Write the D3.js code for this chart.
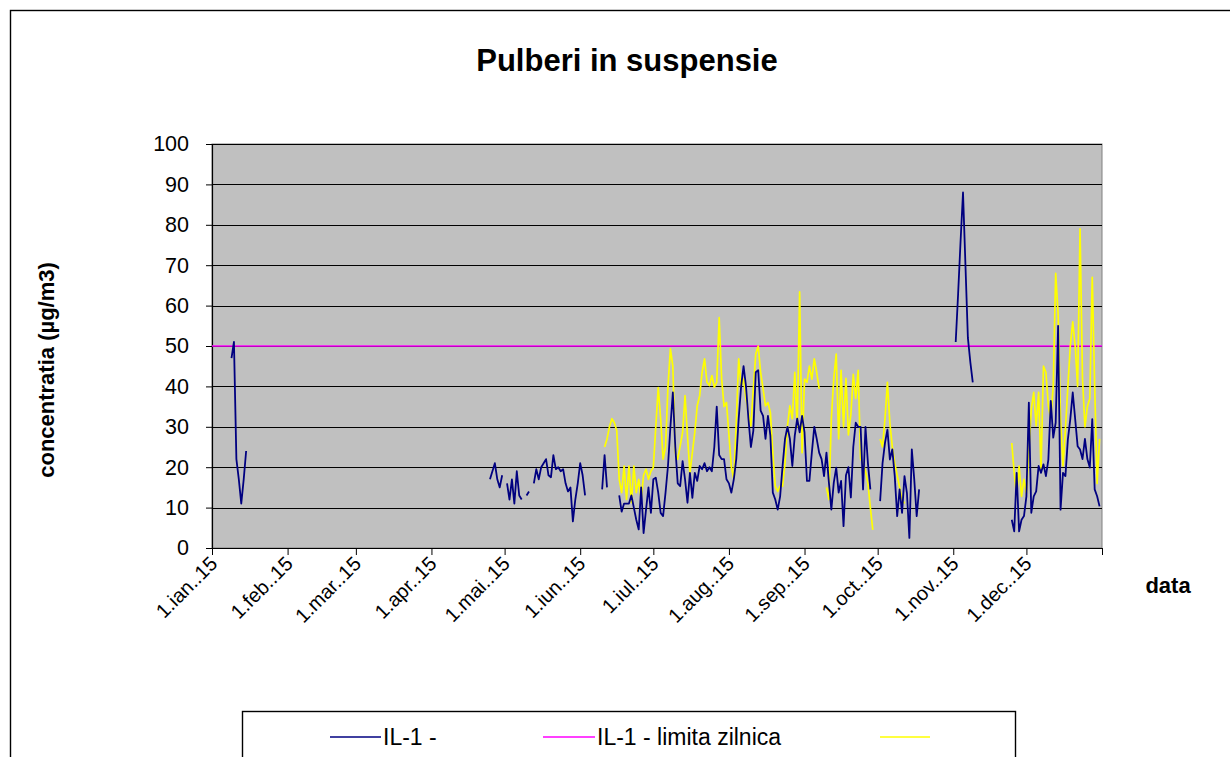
<!DOCTYPE html>
<html><head><meta charset="utf-8">
<script src="https://cdn.jsdelivr.net/npm/d3@7"></script>
<style>body{margin:0;background:#fff}svg{display:block}</style>
</head><body>
<svg id="chart" width="1230" height="757"></svg>
<script>
const chartTitle = "Pulberi in suspensie";
const yAxisTitle = "concentratia (µg/m3)";
const xAxisTitle = "data";
const monthLabels = ["1.ian..15","1.feb..15","1.mar..15","1.apr..15","1.mai..15","1.iun..15","1.iul..15","1.aug..15","1.sep..15","1.oct..15","1.nov..15","1.dec..15"];
const yTicks = [0,10,20,30,40,50,60,70,80,90,100];
const limitValue = 50;
const seriesNames = ["IL-1 -", "IL-1 - limita zilnica", ""];

// IL-1 daily values, in runs (null = missing day)
const il1RunStarts = ["2015-01-09","2015-04-25","2015-06-10","2015-11-02","2015-11-25"];
const il1Run1 = [47,51,22,17,11,17,24];
const il1Run2 = [17,19,21,17,15,18,null,16,12,17,11,19,13,12,null,13,14,null,16,19.5,17,20,21,22,18,17.5,23,19.5,20,19,19.5,16,14,15,6.6,12,16,21,18,13];
const il1Run3 = [14.5,23,15,null,null,null,null,13,9,11,11,11,13,10,7,4.6,15,3.7,9.5,15,8.7,17,17.4,13.7,8.7,7.9,13.7,20.3,30,38.5,25,16,15.3,21.5,17,11.2,18.6,12.4,18.6,16.6,20.3,19.5,21,19,20,19,25,35,23,22,22,17,16,13.7,17,22,32,40,45,40,32,25,29,43.5,44,34,32.7,27,32.7,27.8,13.7,12,9.5,12.8,20.3,27,30,27,20.3,27.8,32,28.6,32.7,28.6,16.6,16.6,23.6,30,27,23.6,22,17.8,23.6,16.2,9.5,16.2,19.9,13.7,16.6,5.4,18,20,12.5,25,31,30,30,14.5,30,21,14.5,null,null,null,11.6,21,26,29.3,21.9,24.4,17.8,7.9,14.5,8.7,17.8,13.6,2.5,24.4,17,7.9,14.5];
const il1Run4 = [51,63,76,88,70,52,46,41];
const il1Run5 = [7,4.1,18.6,4.1,7,7.9,12.8,36,8.7,12.8,14,20.3,18.6,20.7,17.8,21.9,36.4,27.3,31,55,9.5,18.6,17.8,26.9,31.9,38.5,31.9,25.2,24.4,22,27,22,19.9,31.9,14.5,12.8,10.3];

// third (yellow) series daily values, in runs
const yelRunStarts = ["2015-06-11","2015-10-02","2015-11-25"];
const yelRun1 = [25,27,30,32,31,29,17,13.7,20.3,12,20.3,11.2,20.3,13.7,17,12,18,19.5,17,19,20,30,39.7,32,22,25,40,49.3,45,23.6,22,25.3,28.6,37.7,27.8,18.6,23.6,28.6,35.2,37.7,43.5,46.8,41,40.2,42.7,39.8,41,57,42,35,36,28,20,17,31,46.8,40,41.8,37,33.5,30.2,39.4,48,50,43.5,39.4,35.2,36,33.5,23.6,15.3,14,15.3,15.3,21,30.2,35.2,32,43.5,30,63.4,23.6,41.8,41,45,41.8,46.8,43.5,39.4,null,null,15,12,32,42,48,27,44,30,42,28,33,43,37,44,22,21,19,16,10,4.5];
const yelRun2 = [27,25,32,41,31,25,21,18,15,12,11];
const yelRun3 = [26,18.6,12.8,20.3,12.8,17,13.7,23.6,34.4,38.5,30.2,38.5,19.5,45,43.5,35.2,32,40,68,58,32,20.3,29.4,40,50,56,50,40,79,42,30,35,37,67,40,16,27];

const il1Runs = [il1Run1, il1Run2, il1Run3, il1Run4, il1Run5];
const yelRuns = [yelRun1, yelRun2, yelRun3];

const parse = d3.timeParse("%Y-%m-%d");
function buildRuns(starts, runs){
  return runs.map((vals, k) => {
    const s = parse(starts[k]);
    return vals.map((v, i) => ({date: d3.timeDay.offset(s, i), v}));
  });
}
const il1Data = buildRuns(il1RunStarts, il1Runs);
const yelData = buildRuns(yelRunStarts, yelRuns);

const svg = d3.select("#chart");
const FONT = "'Liberation Sans', Arial, sans-serif";
const L = 212, R = 1102, T = 144, B = 548;

// outer border
svg.append("rect").attr("x",10.5).attr("y",10.5).attr("width",1260).attr("height",800)
  .attr("fill","#fff").attr("stroke","#000").attr("stroke-width",1.4);

const x = d3.scaleTime().domain([new Date(2015,0,1), new Date(2016,0,1)]).range([L, R]);
const y = d3.scaleLinear().domain([0,100]).range([B, T]);

// plot area
svg.append("rect").attr("x",L).attr("y",T).attr("width",R-L).attr("height",B-T)
  .attr("fill","#c0c0c0").attr("stroke","#808080").attr("stroke-width",1);

// gridlines
svg.append("g").selectAll("line").data(yTicks.filter(d=>d>0)).join("line")
  .attr("x1",L).attr("x2",R).attr("y1",d=>Math.round(y(d))+0.5).attr("y2",d=>Math.round(y(d))+0.5)
  .attr("stroke","#000").attr("stroke-width",1.2);

// axes
const monthTicks = d3.timeMonth.range(new Date(2015,0,1), new Date(2016,0,2));
const xAxis = svg.append("g").attr("transform",`translate(0,${B})`)
  .call(d3.axisBottom(x).tickValues(monthTicks).tickFormat((d,i)=>monthLabels[i]||"").tickSize(7).tickSizeOuter(0));
xAxis.select(".domain").attr("stroke","#000").attr("stroke-width",1.2);
xAxis.selectAll("line").attr("stroke","#000");
xAxis.selectAll("text").attr("x",0).attr("y",0).attr("dy",0)
  .attr("transform","translate(6,17) rotate(-45)").style("text-anchor","end")
  .attr("font-family",FONT).attr("font-size",20).attr("fill","#000");

const yAxis = svg.append("g").attr("transform",`translate(${L},0)`)
  .call(d3.axisLeft(y).tickValues(yTicks).tickSize(6).tickPadding(17).tickSizeOuter(0));
yAxis.select(".domain").attr("stroke","#000").attr("stroke-width",1.2);
yAxis.selectAll("line").attr("stroke","#000");
yAxis.selectAll("text").attr("font-family",FONT).attr("font-size",21.5).attr("fill","#000");

// lines
const line = d3.line().defined(d=>d.v!=null).x(d=>x(d.date)).y(d=>y(d.v));
const lines = svg.append("g");
lines.append("line").attr("x1",L).attr("x2",R).attr("y1",y(limitValue)).attr("y2",y(limitValue))
  .attr("stroke","#ff00ff").attr("stroke-width",1.7);
lines.selectAll(".yel").data(yelData).join("path").attr("class","yel")
  .attr("d",line).attr("fill","none").attr("stroke","#ffff00").attr("stroke-width",1.7).attr("stroke-linejoin","round");
lines.selectAll(".il1").data(il1Data).join("path").attr("class","il1")
  .attr("d",line).attr("fill","none").attr("stroke","#000080").attr("stroke-width",1.8).attr("stroke-linejoin","round");

// titles
svg.append("text").attr("x",627).attr("y",71).attr("text-anchor","middle")
  .attr("font-family",FONT).attr("font-weight","bold").attr("font-size",31).text(chartTitle);
svg.append("text").attr("transform","translate(54,370) rotate(-90)").attr("text-anchor","middle")
  .attr("font-family",FONT).attr("font-weight","bold").attr("font-size",22).text(yAxisTitle);
svg.append("text").attr("x",1168).attr("y",593).attr("text-anchor","middle")
  .attr("font-family",FONT).attr("font-weight","bold").attr("font-size",22).text(xAxisTitle);

// legend
const lg = svg.append("g");
lg.append("rect").attr("x",242.5).attr("y",711.5).attr("width",773).attr("height",80)
  .attr("fill","#fff").attr("stroke","#000").attr("stroke-width",1.4);
const legendItems = [
  {name: seriesNames[0], color:"#000080", x1:330, x2:381},
  {name: seriesNames[1], color:"#ff00ff", x1:543, x2:595},
  {name: seriesNames[2], color:"#ffff00", x1:880, x2:930}
];
legendItems.forEach(it=>{
  lg.append("line").attr("x1",it.x1).attr("x2",it.x2).attr("y1",737).attr("y2",737)
    .attr("stroke",it.color).attr("stroke-width",1.7);
  lg.append("text").attr("x",it.x2+2).attr("y",745).attr("font-family",FONT).attr("font-size",23)
    .attr("fill","#000").text(it.name);
});
</script>
</body></html>
